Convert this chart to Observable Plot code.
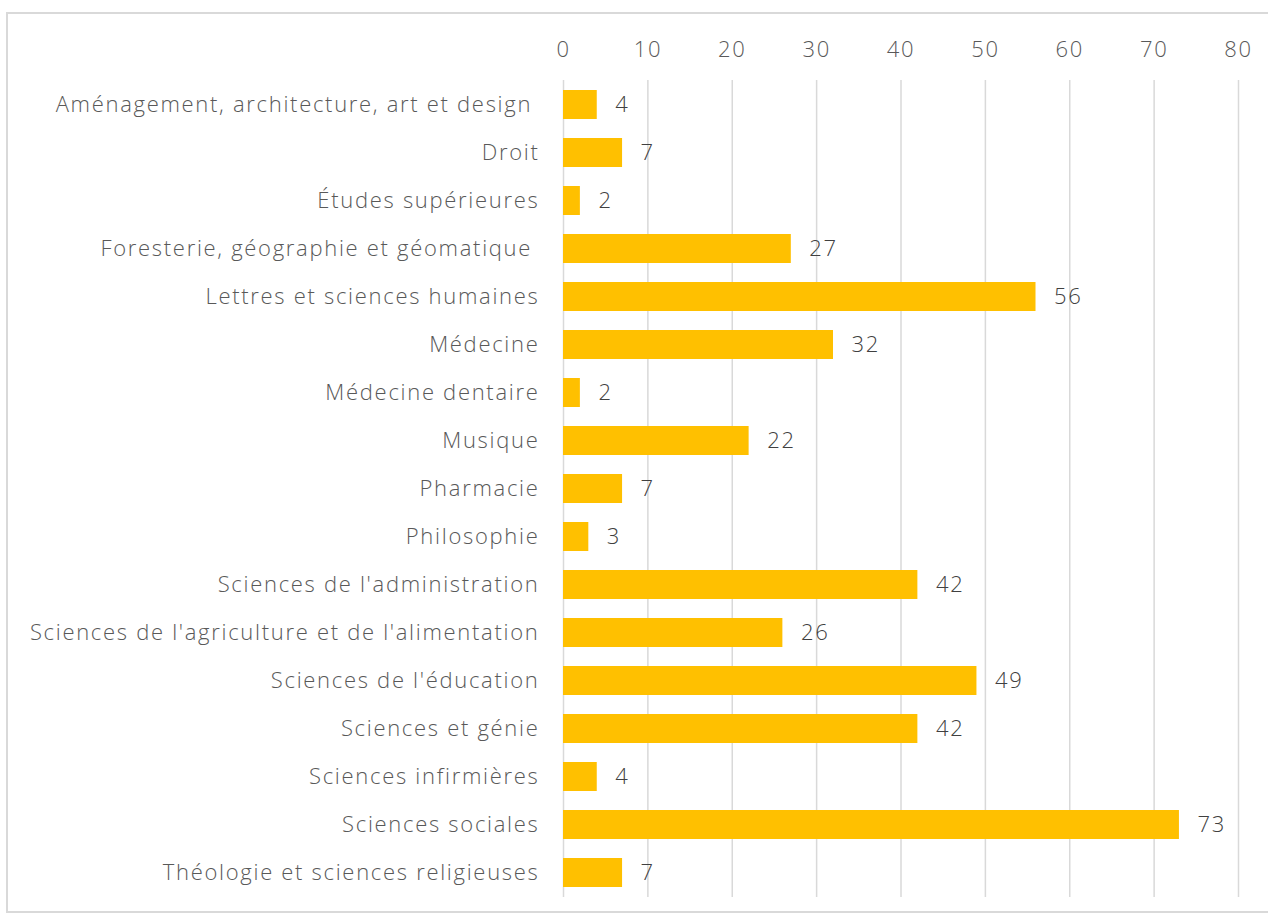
<!DOCTYPE html>
<html>
<head>
<meta charset="utf-8">
<script src="https://cdn.jsdelivr.net/npm/d3@7"></script>
<script src="https://cdn.jsdelivr.net/npm/@observablehq/plot@0.6"></script>
<style>
  html, body { margin: 0; padding: 0; background: #fff; overflow: hidden; }
  #wrap { position: relative; width: 1268px; height: 920px; }
  #frame { position: absolute; left: 6px; top: 12px; width: 1300px; height: 901px; border: 2px solid #d9d9d9; box-sizing: border-box; pointer-events: none; }
  #chart { position: absolute; left: 0; top: 0; }
  #chart svg text { letter-spacing: 1.7px; font-weight: 300; }
</style>
</head>
<body>
<div id="wrap"><div id="chart"></div><div id="frame"></div></div>
<script>
const categories = [
  "Aménagement, architecture, art et design\u00a0",
  "Droit",
  "Études supérieures",
  "Foresterie, géographie et géomatique\u00a0",
  "Lettres et sciences humaines",
  "Médecine",
  "Médecine dentaire",
  "Musique",
  "Pharmacie",
  "Philosophie",
  "Sciences de l'administration",
  "Sciences de l'agriculture et de l'alimentation",
  "Sciences de l'éducation",
  "Sciences et génie",
  "Sciences infirmières",
  "Sciences sociales",
  "Théologie et sciences religieuses"
];
const values = [4, 7, 2, 27, 56, 32, 2, 22, 7, 3, 42, 26, 49, 42, 4, 73, 7];
const xTicks = [0, 10, 20, 30, 40, 50, 60, 70, 80];

const data = categories.map((c, i) => ({category: c, value: values[i]}));
const font = "'Open Sans', 'DejaVu Sans', sans-serif";

const chart = Plot.plot({
  width: 1268,
  height: 920,
  marginLeft: 563,
  marginRight: 30,
  marginTop: 80,
  marginBottom: 23,
  style: {fontFamily: font, fontSize: "22px", color: "#595959", background: "transparent"},
  x: {domain: [0, 80], axis: null},
  y: {domain: categories, paddingInner: 0.4, paddingOuter: 0.21, axis: null},
  marks: [
    Plot.gridX(xTicks, {stroke: "#d9d9d9", strokeOpacity: 1, strokeWidth: 1.5}),
    Plot.barX(data, {x: "value", y: "category", fill: "#FFC000"}),
    Plot.text(data, {x: "value", y: "category", text: d => String(d.value), textAnchor: "start", dx: 18, fill: "#404040", fontSize: 22}),
    Plot.axisY({tickSize: 0, tickPadding: 24, fontSize: 22, fill: "#595959", label: null}),
    Plot.axisX(xTicks, {anchor: "top", tickSize: 0, tickPadding: 24, fontSize: 22, fill: "#595959", label: null})
  ]
});
document.getElementById("chart").appendChild(chart);
</script>
</body>
</html>
